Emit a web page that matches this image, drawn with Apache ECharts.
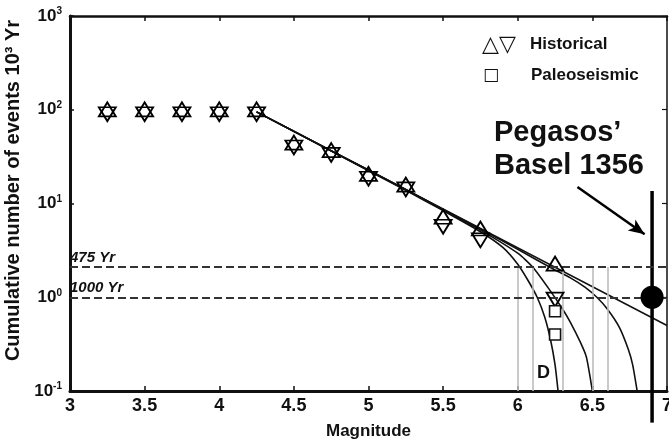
<!DOCTYPE html>
<html>
<head>
<meta charset="utf-8">
<script src="https://cdn.jsdelivr.net/npm/echarts@6/dist/echarts.min.js"></script>
<style>html,body{margin:0;padding:0;background:#fff}#main{width:669px;height:443px}</style>
</head>
<body>
<div id="main"></div>
<script>
// historical catalogue: up / down triangles (drawn together they give the stars)
var histMag = [3.25, 3.5, 3.75, 4.0, 4.25, 4.5, 4.75, 5.0, 5.25, 5.5, 5.75, 6.25];
var histUpRate = [95, 95, 95, 95, 95, 42, 35, 19.5, 15, 6.8, 5.1, 2.15];
var histDownRate = [95, 95, 95, 95, 95, 42, 35, 19.5, 15, 6.0, 4.3, 1.0];
// paleoseismic
var paleoMag = [6.25, 6.25];
var paleoRate = [0.71, 0.40];
// Gutenberg-Richter straight line
var grMag = [4.25, 7.0];
var grRate = [95, 0.5];
// truncated curves
var curveAMag = [4.25, 4.75, 5.25, 5.5, 5.75, 5.9, 6.0, 6.07, 6.13, 6.18, 6.22, 6.25, 6.27];
var curveARate = [95, 36.3, 13.8, 8.4, 5.0, 3.4, 2.25, 1.5, 1.0, 0.62, 0.35, 0.19, 0.1];
var curveBMag = [4.25, 4.75, 5.25, 5.5, 5.75, 6.0, 6.1, 6.21, 6.3, 6.35, 6.42, 6.46, 6.5];
var curveBRate = [95, 36.4, 14, 8.55, 5.2, 2.95, 2.1, 1.22, 0.75, 0.55, 0.33, 0.23, 0.1];
var curveCMag = [4.25, 4.75, 5.25, 5.5, 5.75, 6.0, 6.25, 6.35, 6.45, 6.53, 6.6, 6.68, 6.74, 6.77, 6.8];
var curveCRate = [95, 36.6, 14.1, 8.65, 5.35, 3.25, 1.95, 1.62, 1.28, 1.0, 0.75, 0.48, 0.28, 0.19, 0.1];
// thin grey verticals
var greyMag = [6.0, 6.1, 6.3, 6.5, 6.6];
// return periods
var periodRate = [2.1, 1.0, 0.1];
var periodText = ['475 Yr', '1000 Yr', '10000 Yr'];
// Basel 1356 (Pegasos)
var baselMag = 6.9;
var baselRate = 1.0;
var baselBar = [13.6, 0.046];
var arrowFrom = [6.4, 15];
var arrowTo = [6.85, 4.7];

var FONT = 'Liberation Sans, Arial, sans-serif';

function pairs(xs, ys) {
    var out = [];
    for (var i = 0; i < xs.length; i++) out.push([xs[i], ys[i]]);
    return out;
}

var myChart = echarts.init(document.getElementById('main'));

var curveStyle = {color: '#111', width: 1.6};
function curve(xs, ys) {
    return {
        type: 'line', data: pairs(xs, ys), showSymbol: false, smooth: 0.2,
        lineStyle: curveStyle, z: 3, silent: true
    };
}

var greyLines = greyMag.map(function (m) {
    return [{coord: [m, periodRate[0]]}, {coord: [m, periodRate[2]]}];
});

var periodLines = periodRate.map(function (r, i) {
    return {
        yAxis: r,
        lineStyle: i === 2 ? {width: 0, opacity: 0} : {color: '#333', width: 2, type: [8, 4]},
        label: {
            show: true, position: 'insideStartTop', formatter: periodText[i],
            fontFamily: FONT, fontStyle: 'italic', fontWeight: 'bold', fontSize: 15, color: '#111',
            distance: [0, 2]
        }
    };
});

// star of David = up + down triangle, each shifted a bit
var triStyle = {color: 'rgba(255,255,255,0)', borderColor: '#000', borderWidth: 1.8, opacity: 1};

var option = {
    animation: false,
    grid: {left: 70, right: 2, top: 16, bottom: 52, outerBoundsMode: 'none', containLabel: false},
    xAxis: [{
        type: 'value', min: 3, max: 7, interval: 0.5,
        axisLine: {lineStyle: {color: '#111', width: 3}},
        axisTick: {inside: true, length: 5, lineStyle: {color: '#111', width: 1.5}},
        axisLabel: {fontFamily: FONT, fontWeight: 'bold', fontSize: 18, color: '#111', margin: 6},
        splitLine: {show: false},
        name: 'Magnitude', nameLocation: 'middle', nameGap: 32,
        nameTextStyle: {fontFamily: FONT, fontWeight: 'bold', fontSize: 17, color: '#111'}
    }, {
        type: 'value', min: 3, max: 7, interval: 0.5, position: 'top',
        axisLine: {lineStyle: {color: '#111', width: 2.5}},
        axisTick: {inside: true, length: 5, lineStyle: {color: '#111', width: 1.5}},
        axisLabel: {show: false}, splitLine: {show: false}
    }],
    yAxis: [{
        type: 'log', logBase: 10, min: 0.1, max: 1000,
        axisLine: {show: true, lineStyle: {color: '#111', width: 3}},
        axisTick: {show: true, inside: true, length: 4, lineStyle: {color: '#111', width: 1.5}},
        minorTick: {show: false},
        splitLine: {show: false},
        axisLabel: {
            margin: 8,
            formatter: function (v) {
                return '{b|10}{s|' + Math.round(Math.log10(v)) + '}';
            },
            rich: {
                b: {fontFamily: FONT, fontWeight: 'bold', fontSize: 17, color: '#111'},
                s: {fontFamily: FONT, fontWeight: 'bold', fontSize: 10, color: '#111', padding: [0, 0, 9, 0]}
            }
        },
        name: 'Cumulative number of events 10\u00B3 Yr', nameLocation: 'middle', nameGap: 45,
        nameTextStyle: {fontFamily: FONT, fontWeight: 'bold', fontSize: 20, color: '#111', padding: [0, 0, 0, 26]}
    }, {
        type: 'log', logBase: 10, min: 0.1, max: 1000, position: 'right',
        axisLine: {show: true, lineStyle: {color: '#111', width: 1.5}},
        axisTick: {show: true, inside: true, length: 5, lineStyle: {color: '#111', width: 1.2}},
        axisLabel: {show: false}, splitLine: {show: false}
    }],
    graphic: [
        {type: 'text', left: 482, top: 34, style: {text: '\u25B3\u25BD', font: '22px "DejaVu Sans"', fill: '#111'}},
        {type: 'text', left: 530, top: 36, style: {text: 'Historical', font: 'bold 17px ' + FONT, fill: '#111'}},
        {type: 'text', left: 483, top: 67, style: {text: '\u25A1', font: '17px "DejaVu Sans"', fill: '#111'}},
        {type: 'text', left: 531, top: 67, style: {text: 'Paleoseismic', font: 'bold 17px ' + FONT, fill: '#111'}},
        {type: 'text', left: 494, top: 118, style: {text: 'Pegasos\u2019', font: 'bold 29px ' + FONT, fill: '#111'}},
        {type: 'text', left: 494, top: 151, style: {text: 'Basel 1356', font: 'bold 29px ' + FONT, fill: '#111'}},
        {type: 'text', left: 537, top: 364, style: {text: 'D', font: 'bold 18px ' + FONT, fill: '#111'}}
    ],
    series: [
        {
            type: 'line', data: [], silent: true, z: 1,
            markLine: {
                silent: true, symbol: ['none', 'none'],
                lineStyle: {color: '#bdbdbd', width: 1.6, type: 'solid'},
                label: {show: false},
                data: greyLines
            }
        },
        {
            type: 'line', data: [], silent: true, z: 2,
            markLine: {silent: true, symbol: ['none', 'none'], data: periodLines}
        },
        curve(grMag, grRate),
        curve(curveAMag, curveARate),
        curve(curveBMag, curveBRate),
        curve(curveCMag, curveCRate),
        {
            type: 'line', data: pairs([baselMag, baselMag], baselBar), showSymbol: false, clip: false,
            lineStyle: {color: '#000', width: 3.5}, z: 4, silent: true,
            markLine: {
                silent: true, symbol: ['none', 'arrow'], symbolSize: [10, 16],
                lineStyle: {color: '#000', width: 2.5, type: 'solid'}, label: {show: false},
                data: [[{coord: arrowFrom}, {coord: arrowTo}]]
            }
        },
        {
            type: 'scatter', data: [[baselMag, baselRate]], symbol: 'circle', symbolSize: 23,
            itemStyle: {color: '#000', opacity: 1}, z: 6, silent: true
        },
        {
            type: 'scatter', data: pairs(histMag, histUpRate), symbol: 'triangle',
            symbolSize: [17, 14], symbolOffset: [0, -2.4],
            itemStyle: triStyle, z: 5, silent: true
        },
        {
            type: 'scatter', data: pairs(histMag, histDownRate), symbol: 'triangle', symbolRotate: 180,
            symbolSize: [17, 14], symbolOffset: [0, 2.4],
            itemStyle: triStyle, z: 5, silent: true
        },
        {
            type: 'scatter', data: pairs(paleoMag, paleoRate), symbol: 'rect', symbolSize: 11,
            itemStyle: {color: '#fff', borderColor: '#111', borderWidth: 1.6, opacity: 1}, z: 5, silent: true
        }
    ]
};
myChart.setOption(option);
</script>
</body>
</html>
